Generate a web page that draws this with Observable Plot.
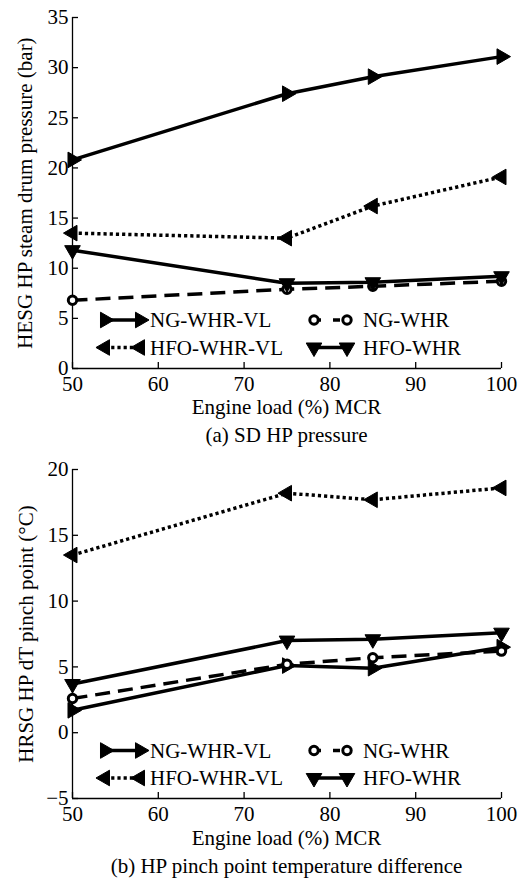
<!DOCTYPE html>
<html>
<head>
<meta charset="utf-8">
<script src="https://cdn.jsdelivr.net/npm/d3@7"></script>
<script src="https://cdn.jsdelivr.net/npm/@observablehq/plot@0.6"></script>
<style>
  html, body { margin: 0; padding: 0; background: #fff; }
  #page { position: relative; width: 521px; height: 878px; font-family: "Liberation Serif", "Times New Roman", serif; color: #000; }
  #page > * { position: absolute; }
  .cap { left: 0; width: 573px; text-align: center; font-size: 21px; line-height: 21px; white-space: nowrap; }
</style>
</head>
<body>
<div id="page"></div>
<script>
// Engine load points (% MCR)
const loads = [50, 75, 85, 100];
const xTicks = [50, 60, 70, 80, 90, 100];
const seriesNames = ["NG-WHR-VL", "NG-WHR", "HFO-WHR-VL", "HFO-WHR"];

// (a) HP steam drum pressure (bar)
const pressureNgWhrVl = [20.8, 27.4, 29.1, 31.1];
const pressureNgWhr = [6.8, 7.9, 8.2, 8.7];
const pressureHfoWhrVl = [13.5, 13.0, 16.2, 19.1];
const pressureHfoWhr = [11.8, 8.5, 8.6, 9.2];
const pressureTicks = [0, 5, 10, 15, 20, 25, 30, 35];

// (b) HP pinch point temperature difference (°C)
const pinchNgWhrVl = [1.7, 5.1, 4.9, 6.5];
const pinchNgWhr = [2.6, 5.2, 5.7, 6.2];
const pinchHfoWhrVl = [13.5, 18.2, 17.7, 18.6];
const pinchHfoWhr = [3.7, 7.0, 7.1, 7.6];
const pinchTicks = [-5, 0, 5, 10, 15, 20];

const serif = "'Liberation Serif', 'Times New Roman', serif";

// Line and marker style of each series
const styles = {
  "NG-WHR-VL":  {dash: null,    symbol: "triangle", rotate: 90,  fill: "black", r: 5.8, sw: 1},
  "NG-WHR":     {dash: "15,8",  symbol: "circle",   rotate: 0,   fill: "white", r: 4.2, sw: 3},
  "HFO-WHR-VL": {dash: "3.2,3", symbol: "triangle", rotate: -90, fill: "black", r: 5.8, sw: 1},
  "HFO-WHR":    {dash: null,    symbol: "triangle", rotate: 180, fill: "black", r: 5.8, sw: 1}
};

function rowsOf(valuesBySeries) {
  return seriesNames.map((name, s) => loads.map((load, i) => ({series: name, load, value: valuesBySeries[s][i]})));
}

function panel({values, ticks, yLabel, top, marginTop, plotBottom, labelX}) {
  const marginBottom = 30;
  const height = (plotBottom - top) + marginBottom;
  const groups = rowsOf(values);
  const marks = [
    Plot.ruleX([50], {stroke: "black", strokeWidth: 1.3}),
    Plot.ruleY([ticks[0]], {stroke: "black", strokeWidth: 1.3}),
    Plot.axisX({ticks: xTicks, tickSize: -6, tickPadding: 14, fontSize: 21, label: null, strokeWidth: 1.3}),
    Plot.axisY({ticks, tickSize: -6, tickPadding: 10, fontSize: 21, label: null, strokeWidth: 1.3}),
    Plot.text([yLabel], {frameAnchor: "left", text: d => d, rotate: -90, dx: -(72 - labelX), fontSize: 21, textAnchor: "middle", lineAnchor: "middle"})
  ];
  groups.forEach(rows => {
    const st = styles[rows[0].series];
    marks.push(Plot.line(rows, {x: "load", y: "value", stroke: "black", strokeWidth: 3.5, strokeDasharray: st.dash, strokeLinecap: "butt"}));
  });
  groups.forEach(rows => {
    const st = styles[rows[0].series];
    marks.push(Plot.dot(rows, {x: "load", y: "value", symbol: st.symbol, rotate: st.rotate, r: st.r, fill: st.fill, stroke: "black", strokeWidth: st.sw}));
  });
  const chart = Plot.plot({
    width: 521,
    height,
    marginLeft: 72,
    marginRight: 20,
    marginTop,
    marginBottom,
    style: {fontFamily: serif, fontSize: "21px", color: "black", background: "transparent", overflow: "visible"},
    x: {domain: [50, 100]},
    y: {domain: [ticks[0], ticks[ticks.length - 1]]},
    marks
  });
  chart.style.top = top + "px";
  chart.style.left = "0px";
  return chart;
}

const page = document.getElementById("page");

page.append(panel({
  values: [pressureNgWhrVl, pressureNgWhr, pressureHfoWhrVl, pressureHfoWhr],
  ticks: pressureTicks,
  yLabel: "HESG HP steam drum pressure (bar)",
  top: 0, marginTop: 17, plotBottom: 368, labelX: 25
}));
page.append(panel({
  values: [pinchNgWhrVl, pinchNgWhr, pinchHfoWhrVl, pinchHfoWhr],
  ticks: pinchTicks,
  yLabel: "HRSG HP dT pinch point (°C)",
  top: 440, marginTop: 29, plotBottom: 798, labelX: 26
}));

// Axis titles and panel captions
function caption(text, top) {
  const d = document.createElement("div");
  d.className = "cap";
  d.style.top = top + "px";
  d.textContent = text;
  page.append(d);
}
caption("Engine load (%) MCR", 397);
caption("(a) SD HP pressure", 425);
caption("Engine load (%) MCR", 828);
caption("(b) HP pinch point temperature difference", 856);

// Legends inside each panel
const legendSvg = d3.create("svg").attr("width", 521).attr("height", 878)
  .style("left", "0px").style("top", "0px").style("pointer-events", "none");
const legendLayout = [
  {series: "NG-WHR-VL",  col: 0, row: 0},
  {series: "NG-WHR",     col: 1, row: 0},
  {series: "HFO-WHR-VL", col: 0, row: 1},
  {series: "HFO-WHR",    col: 1, row: 1}
];
const cols = [{x1: 105, x2: 140, tx: 150}, {x1: 314, x2: 347, tx: 363}];
function legend(rowYs) {
  const g = legendSvg.append("g");
  legendLayout.forEach(item => {
    const st = styles[item.series];
    const c = cols[item.col];
    const y = rowYs[item.row];
    g.append("line").attr("x1", c.x1).attr("x2", c.x2).attr("y1", y).attr("y2", y)
      .attr("stroke", "black").attr("stroke-width", 3.5)
      .attr("stroke-dasharray", item.series === "NG-WHR" ? "7,12" : st.dash);
    const sym = d3.symbol(st.symbol === "circle" ? d3.symbolCircle : d3.symbolTriangle, Math.PI * st.r * st.r);
    [c.x1, c.x2].forEach(x => {
      g.append("path").attr("d", sym())
        .attr("transform", `translate(${x},${y}) rotate(${st.rotate})`)
        .attr("fill", st.fill).attr("stroke", "black").attr("stroke-width", st.sw);
    });
    g.append("text").attr("x", c.tx).attr("y", y + 7.2)
      .style("font-family", serif).attr("font-size", 21)
      .text(item.series);
  });
}
legend([320, 347.5]);
legend([750.5, 778]);
page.append(legendSvg.node());
</script>
</body>
</html>
